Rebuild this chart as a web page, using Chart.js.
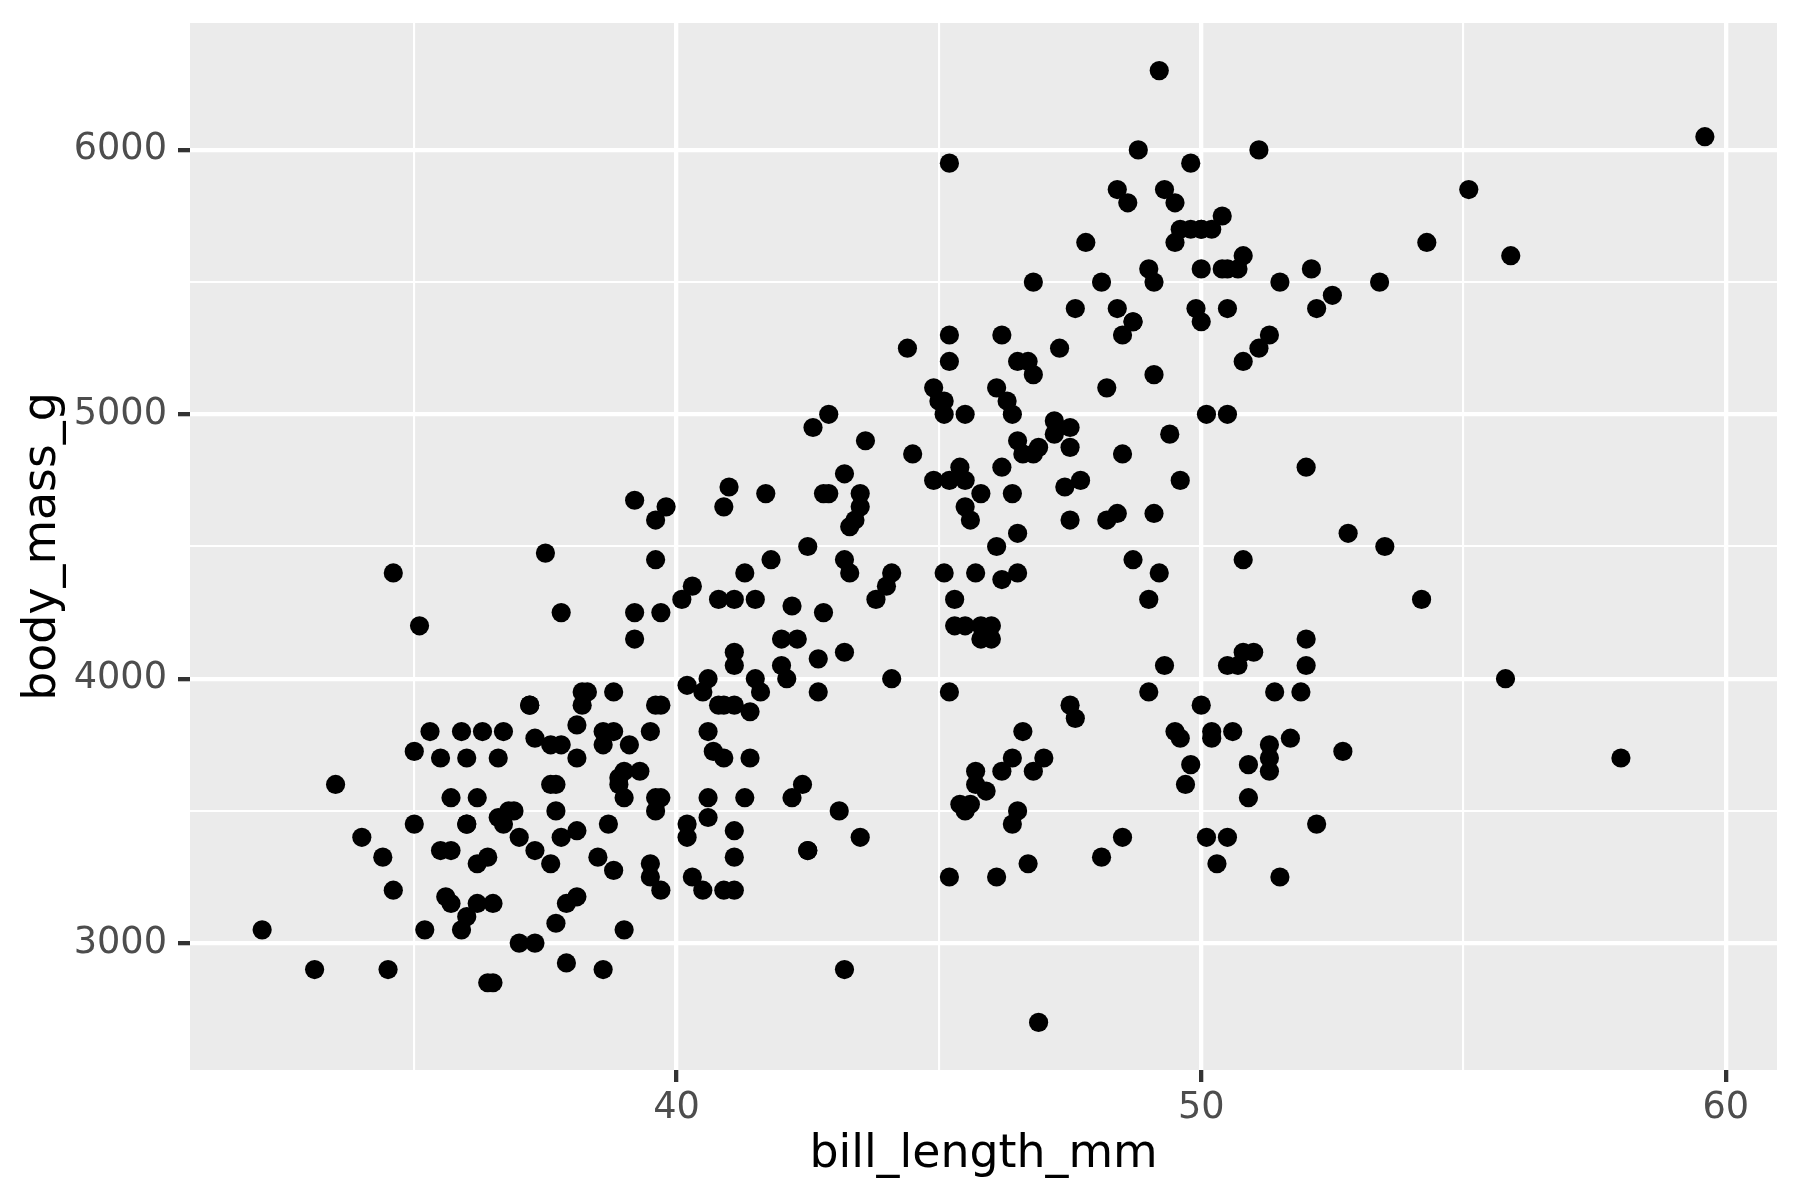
<!DOCTYPE html>
<html>
<head>
<meta charset="utf-8">
<script src="https://cdn.jsdelivr.net/npm/chart.js@4.4.1/dist/chart.umd.min.js"></script>
<style>
  body { margin: 0; background: #ffffff; }
  canvas { display: block; }
</style>
</head>
<body>
<canvas id="grafico" width="1800" height="1200"></canvas>
<script>
// bill_length_mm / body_mass_g por especie
const adelieBill = [
  39.1, 39.5, 40.3, 36.7, 39.3, 38.9, 39.2,
  41.1, 38.6, 34.6, 36.6, 38.7, 42.5, 34.4, 46.0, 37.8,
  37.7, 35.9, 38.2, 38.8, 35.3, 40.6, 40.5, 37.9, 40.5, 39.5,
  37.2, 39.5, 40.9, 36.4, 39.2, 38.8, 42.2, 37.6, 39.8, 36.5,
  40.8, 36.0, 44.1, 37.0, 39.6, 41.1, 36.0, 42.3, 39.6,
  40.1, 35.0, 42.0, 34.5, 41.4, 39.0, 40.6, 36.5, 37.6, 35.7,
  41.3, 37.6, 41.1, 36.4, 41.6, 35.5, 41.1, 35.9, 41.8, 33.5,
  39.7, 39.6, 45.8, 35.5, 42.8, 40.9, 37.2, 36.2, 42.1, 34.6,
  42.9, 36.7, 35.1, 37.3, 41.3, 36.3, 36.9, 38.3, 38.9, 35.7,
  41.1, 34.0, 39.6, 36.2, 40.8, 38.1, 40.3, 33.1, 43.2, 35.0,
  41.0, 37.7, 37.8, 37.9, 39.7, 38.6, 38.2, 38.1, 43.2, 38.1,
  45.6, 39.7, 42.2, 39.6, 42.7, 38.6, 37.3, 35.7, 41.1, 36.2,
  37.7, 40.2, 41.4, 35.2, 40.6, 38.8, 41.5, 39.0, 44.1, 38.5,
  43.1, 36.8, 37.5, 38.1, 41.1, 35.6, 40.2, 37.0, 39.7, 40.2,
  40.6, 32.1, 40.7, 37.3, 39.0, 39.2, 36.6, 36.0, 37.8, 36.0,
  41.5
];
const adelieMass = [
  3750, 3800, 3250, 3450, 3650, 3625, 4675,
  3200, 3800, 4400, 3700, 3450, 4500, 3325, 4200, 3400,
  3600, 3800, 3950, 3800, 3800, 3550, 3200, 3150, 3950, 3250,
  3900, 3300, 3900, 3325, 4150, 3950, 3550, 3300, 4650, 3150,
  3900, 3100, 4400, 3000, 4600, 3425, 3450, 4150, 3500,
  4300, 3450, 4050, 2900, 3700, 3550, 3800, 2850, 3750, 3150,
  4400, 3600, 4050, 2850, 3950, 3350, 4100, 3050, 4450, 3600,
  3900, 3550, 4150, 3700, 4250, 3700, 3900, 3550, 4000, 3200,
  4700, 3800, 4200, 3350, 3550, 3800, 3500, 3950, 3600, 3550,
  4300, 3400, 4450, 3300, 4300, 3700, 4350, 2900, 4100, 3725,
  4725, 3075, 4250, 2925, 3550, 3750, 3900, 3175, 4775, 3825,
  4600, 3200, 4275, 3900, 4075, 2900, 3775, 3350, 3325, 3150,
  3500, 3450, 3875, 3050, 4000, 3275, 4300, 3050, 4000, 3325,
  3500, 3500, 4475, 3425, 3900, 3175, 3975, 3400, 4250, 3400,
  3475, 3050, 3725, 3000, 3650, 4250, 3475, 3450, 3750, 3700,
  4000
];
const gentooBill = [
  46.1, 50.0, 48.7, 50.0, 47.6, 46.5, 45.4, 46.7, 43.3, 46.8,
  40.9, 49.0, 45.5, 48.4, 45.8, 49.3, 42.0, 49.2, 46.2, 48.7,
  50.2, 45.1, 46.5, 46.3, 42.9, 46.1, 47.8, 48.2, 50.0,
  47.3, 42.8, 45.1, 59.6, 49.1, 48.4, 42.6, 44.4, 44.0, 48.7,
  42.7, 49.6, 45.3, 49.6, 50.5, 43.6, 45.5, 50.5, 44.9, 45.2,
  46.6, 48.5, 45.1, 50.1, 46.5, 45.0, 43.8, 45.5, 43.2, 50.4,
  45.3, 46.2, 45.7, 54.3, 45.8, 49.8, 49.5, 43.5, 50.7,
  47.7, 46.4, 48.2, 46.5, 46.4, 48.6, 47.5, 51.1, 45.2, 45.2,
  49.1, 52.5, 47.4, 50.0, 44.9, 50.8, 43.4, 51.3, 47.5, 52.1,
  47.5, 52.2, 45.5, 49.5, 44.5, 50.8, 49.4, 46.9, 48.4, 51.1,
  48.5, 55.9, 47.2, 49.1, 46.8, 41.7, 53.4, 43.3, 48.1,
  50.5, 49.8, 43.5, 51.5, 46.2, 55.1, 48.8, 47.2, 46.8,
  50.4, 45.2, 49.9
];
const gentooMass = [
  4500, 5700, 4450, 5700, 5400, 4550, 4800, 5200, 4400, 5150,
  4650, 5550, 4650, 5850, 4200, 5850, 4150, 6300, 4800, 5350,
  5700, 5000, 4400, 5050, 5000, 5100, 5650, 4600, 5550,
  5250, 4700, 5050, 6050, 5150, 5400, 4950, 5250, 4350, 5350,
  3950, 5700, 4300, 4750, 5550, 4900, 4200, 5400, 5100, 5300,
  4850, 5300, 4400, 5000, 4900, 5050, 4300, 5000, 4450, 5550,
  4200, 5300, 4400, 5650, 4700, 5700, 5800, 4700, 5550,
  4750, 5000, 5100, 5200, 4700, 5800, 4600, 6000, 4750, 5950,
  4625, 5450, 4725, 5350, 4750, 5600, 4600, 5300, 4875, 5550,
  4950, 5400, 4750, 5650, 4850, 5200, 4925, 4875, 4625, 5250,
  4850, 5600, 4975, 5500, 5500, 4700, 5500, 4575, 5500,
  5000, 5950, 4650, 5500, 4375, 5850, 6000, 4925, 4850,
  5750, 5200, 5400
];
const chinstrapBill = [
  46.5, 50.0, 51.3, 45.4, 52.7, 45.2, 46.1, 51.3, 46.0, 51.3,
  46.6, 51.7, 47.0, 52.0, 45.9, 50.5, 50.3, 58.0, 46.4, 49.2,
  42.4, 48.5, 43.2, 50.6, 46.7, 52.0, 50.5, 49.5, 46.4, 52.8,
  40.9, 54.2, 42.5, 51.0, 49.7, 47.5, 47.6, 52.0, 46.9, 53.5,
  49.0, 46.2, 50.9, 45.5, 50.9, 50.8, 50.1, 49.0, 51.5, 49.8,
  48.1, 51.4, 45.7, 50.7, 42.5, 52.2, 45.2, 49.3, 50.2, 45.6,
  51.9, 46.8, 45.7, 55.8, 43.5, 49.6, 50.8, 50.2
];
const chinstrapMass = [
  3500, 3900, 3650, 3525, 3725, 3950, 3250, 3750, 4150, 3700,
  3800, 3775, 3700, 4050, 3575, 4050, 3300, 3700, 3450, 4400,
  3600, 3400, 2900, 3800, 3300, 4150, 3400, 3800, 3700, 4550,
  3200, 4300, 3350, 4100, 3600, 3900, 3850, 4800, 2700, 4500,
  3950, 3650, 3550, 3500, 3675, 4450, 3400, 4300, 3250, 3675,
  3325, 3950, 3600, 4050, 3350, 3450, 3250, 4050, 3800, 3525,
  3950, 3650, 3650, 4000, 3400, 3775, 4100, 3775
];

// ejes
const xTicks = [40, 50, 60];
const xMinor = [35, 45, 55];
const yTicks = [3000, 4000, 5000, 6000];
const yMinor = [3500, 4500, 5500];

function puntos(xs, ys) {
  return xs.map((x, i) => ({ x: x, y: ys[i] }));
}

function serie(nombre, xs, ys) {
  return {
    label: nombre,
    data: puntos(xs, ys),
    backgroundColor: '#000000',
    borderWidth: 0,
    pointRadius: 9.6,
    pointHoverRadius: 9.6
  };
}

// fondo gris del panel
const panelGris = {
  id: 'panelGris',
  beforeDraw(chart) {
    const { ctx, chartArea: a } = chart;
    ctx.save();
    ctx.fillStyle = '#EBEBEB';
    ctx.fillRect(a.left, a.top, a.right - a.left, a.bottom - a.top);
    ctx.restore();
  }
};

function eje(mayores, menores, min, max, titulo, tamano, pad, titPad) {
  const todos = mayores.concat(menores).sort((a, b) => a - b);
  const esMayor = (c) => c.tick && mayores.includes(c.tick.value);
  return {
    type: 'linear',
    min: min,
    max: max,
    bounds: 'data',
    afterBuildTicks: (scale) => { scale.ticks = todos.map(v => ({ value: v })); },
    afterFit: (scale) => {
      if (scale.isHorizontal()) scale.height = tamano; else scale.width = tamano;
      scale.paddingTop = 0;
      scale.paddingBottom = 0;
      scale.paddingLeft = 0;
      scale.paddingRight = 0;
    },
    border: { display: false },
    grid: {
      color: '#FFFFFF',
      lineWidth: (c) => esMayor(c) ? 4.3 : 2.1,
      drawTicks: true,
      tickLength: 12,
      tickWidth: 4.3,
      tickColor: (c) => esMayor(c) ? '#333333' : 'rgba(0,0,0,0)'
    },
    ticks: {
      autoSkip: false,
      maxRotation: 0,
      padding: pad,
      color: '#4D4D4D',
      font: { family: 'DejaVu Sans', size: 36.7 },
      callback: (v) => mayores.includes(v) ? String(v) : ''
    },
    title: {
      display: true,
      text: titulo,
      color: '#000000',
      font: { family: 'DejaVu Sans', size: 45.8 },
      padding: titPad
    }
  };
}

const ctx = document.getElementById('grafico');

new Chart(ctx, {
  type: 'scatter',
  data: {
    datasets: [
      serie('Adelie', adelieBill, adelieMass),
      serie('Gentoo', gentooBill, gentooMass),
      serie('Chinstrap', chinstrapBill, chinstrapMass)
    ]
  },
  options: {
    responsive: false,
    animation: false,
    devicePixelRatio: 1,
    layout: { padding: { left: 0, top: 23, right: 23, bottom: 0 } },
    plugins: {
      legend: { display: false },
      tooltip: { enabled: false }
    },
    scales: {
      x: eje(xTicks, xMinor, 30.725, 60.975, 'bill_length_mm', 130, 4, { top: 0, bottom: 17 }),
      y: eje(yTicks, yMinor, 2520, 6480, 'body_mass_g', 190, 11, { top: 16, bottom: 0 })
    }
  },
  plugins: [panelGris]
});
</script>
</body>
</html>
